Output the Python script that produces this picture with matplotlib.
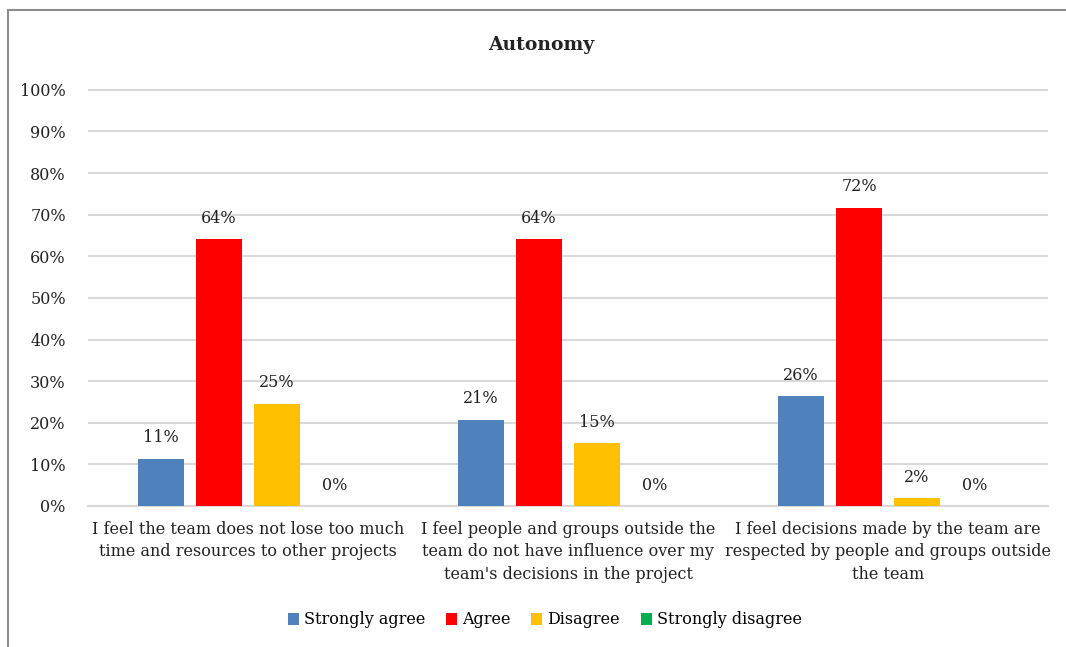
import numpy as np
import matplotlib; matplotlib.use("Agg")
import matplotlib.pyplot as plt
from matplotlib.lines import Line2D
from matplotlib.ticker import PercentFormatter

plt.rcParams.update({"font.family": "DejaVu Serif", "font.size": 11.5})

questions = [
    "I feel the team does not lose too much\ntime and resources to other projects",
    "I feel people and groups outside the\nteam do not have influence over my\nteam's decisions in the project",
    "I feel decisions made by the team are\nrespected by people and groups outside\nthe team",
]
responses = ["Strongly agree", "Agree", "Disagree", "Strongly disagree"]
colors = ["#4F81BD", "#FF0000", "#FFC000", "#00B050"]
# share of respondents per answer (n = 53)
strongly_agree = [0.1132, 0.2075, 0.2642]
agree = [0.6415, 0.6415, 0.7170]
disagree = [0.2453, 0.1509, 0.0189]
strongly_disagree = [0.0, 0.0, 0.0]
series = [strongly_agree, agree, disagree, strongly_disagree]

W, H = 1066, 647
fig = plt.figure(figsize=(W / 100, H / 100), dpi=100)
ax = fig.add_axes([88 / W, 1 - 506 / H, 960 / W, 417 / H])

x = np.arange(len(questions))
step, bw = 0.181, 0.144
for i, (vals, lab, col) in enumerate(zip(series, responses, colors)):
    xs = x + (i - 1.5) * step
    ax.bar(xs, vals, width=bw, color=col, label=lab, zorder=3)
    for xi, v in zip(xs, vals):
        ax.annotate(f"{v:.0%}", (xi, v), xytext=(0, 9), textcoords="offset points",
                    ha="center", va="bottom", fontsize=11.5, color="#222222")

ax.set_xlim(-0.5, 2.5)
ax.set_ylim(0, 1.002)
ax.set_yticks(np.arange(0, 1.01, 0.1))
ax.yaxis.set_major_formatter(PercentFormatter(1.0, decimals=0))
ax.set_xticks(x)
ax.set_xticklabels(questions, linespacing=1.4)
ax.tick_params(length=0, labelsize=11.5, colors="#222222")
ax.tick_params(axis="y", pad=16)
ax.tick_params(axis="x", pad=11)
ax.grid(axis="y", color="#D9D9D9", lw=1.5, zorder=0)
for s in ["top", "right", "left"]:
    ax.spines[s].set_visible(False)
ax.spines["bottom"].set_color("#D9D9D9")
ax.spines["bottom"].set_linewidth(1.5)

fig.text(0.508, 1 - 45 / H, "Autonomy", ha="center", va="center",
         fontsize=13.5, fontweight="bold", color="#222222")
fig.legend(loc="center", bbox_to_anchor=(0.511, 1 - 620 / H), ncol=4, frameon=False,
           handlelength=0.7, handleheight=0.7, handletextpad=0.3, columnspacing=1.3,
           fontsize=11.5)

# outer chart frame
x0, y0 = 7.5 / W, 1 - 10 / H
fig.add_artist(Line2D([x0, x0], [0, y0], color="#8C8C8C", lw=1.5))
fig.add_artist(Line2D([x0, 1], [y0, y0], color="#8C8C8C", lw=1.5))

fig.savefig("out.png", dpi=100)
